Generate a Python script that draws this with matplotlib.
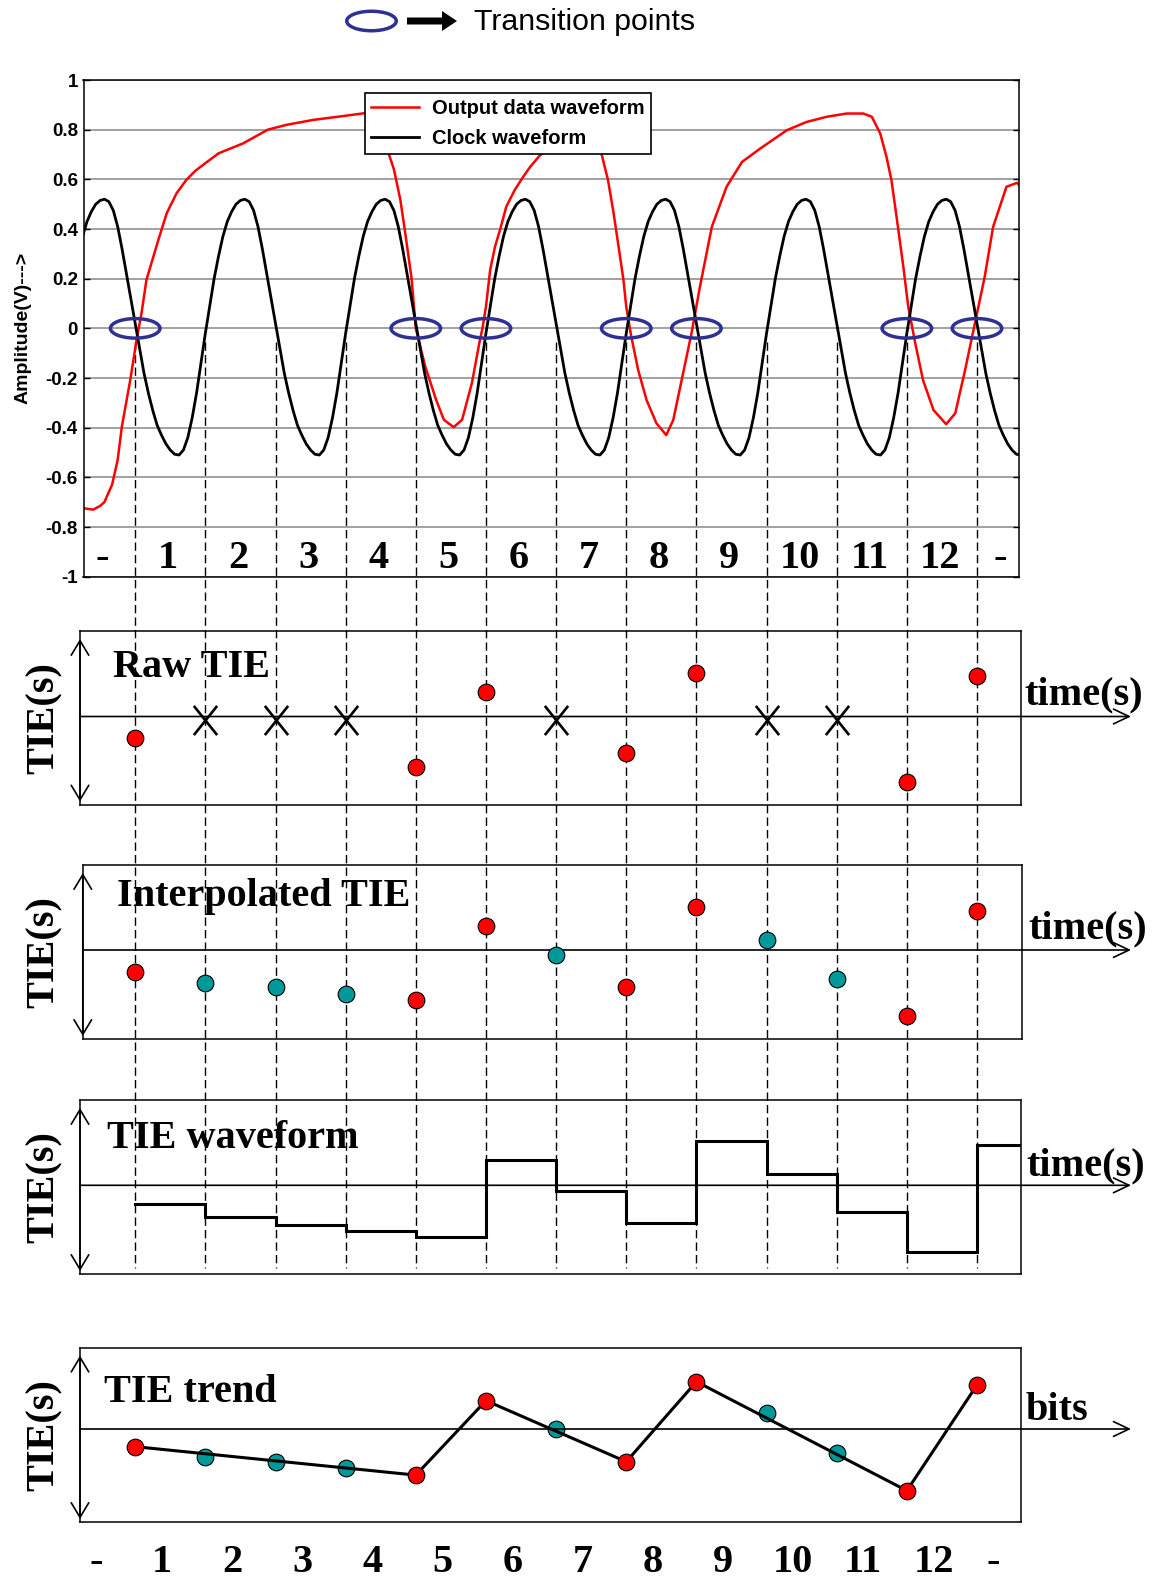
import numpy as np
import matplotlib as mpl
import matplotlib.pyplot as plt
from matplotlib import transforms
from matplotlib.patches import Ellipse, FancyArrow
from matplotlib.path import Path

mpl.rcParams['font.family'] = ['Liberation Sans', 'DejaVu Sans']

# time axis is in bit intervals, t = 0 is the first clock crossing
clock_t = np.arange(-0.75, 12.626, 0.0625)
clock_v = [0.37, 0.43, 0.47, 0.5, 0.515, 0.52, 0.51, 0.475, 0.41, 0.32, 0.22, 0.12,
	0.02, -0.08, -0.18, -0.26, -0.33, -0.39, -0.43, -0.465, -0.49, -0.507, -0.51, -0.49, -0.44, -0.36, -0.26, -0.14,
	-0.02, 0.09, 0.2, 0.29, 0.37, 0.43, 0.47, 0.5, 0.515, 0.52, 0.51, 0.475, 0.41, 0.32, 0.22, 0.12,
	0.02, -0.08, -0.18, -0.26, -0.33, -0.39, -0.43, -0.465, -0.49, -0.507, -0.51, -0.49, -0.44, -0.36, -0.26, -0.14,
	-0.02, 0.09, 0.2, 0.29, 0.37, 0.43, 0.47, 0.5, 0.515, 0.52, 0.51, 0.475, 0.41, 0.32, 0.22, 0.12,
	0.02, -0.08, -0.18, -0.26, -0.33, -0.39, -0.43, -0.465, -0.49, -0.507, -0.51, -0.49, -0.44, -0.36, -0.26, -0.14,
	-0.02, 0.09, 0.2, 0.29, 0.37, 0.43, 0.47, 0.5, 0.515, 0.52, 0.51, 0.475, 0.41, 0.32, 0.22, 0.12,
	0.02, -0.08, -0.18, -0.26, -0.33, -0.39, -0.43, -0.465, -0.49, -0.507, -0.51, -0.49, -0.44, -0.36, -0.26, -0.14,
	-0.02, 0.09, 0.2, 0.29, 0.37, 0.43, 0.47, 0.5, 0.515, 0.52, 0.51, 0.475, 0.41, 0.32, 0.22, 0.12,
	0.02, -0.08, -0.18, -0.26, -0.33, -0.39, -0.43, -0.465, -0.49, -0.507, -0.51, -0.49, -0.44, -0.36, -0.26, -0.14,
	-0.02, 0.09, 0.2, 0.29, 0.37, 0.43, 0.47, 0.5, 0.515, 0.52, 0.51, 0.475, 0.41, 0.32, 0.22, 0.12,
	0.02, -0.08, -0.18, -0.26, -0.33, -0.39, -0.43, -0.465, -0.49, -0.507, -0.51, -0.49, -0.44, -0.36, -0.26, -0.14,
	-0.02, 0.09, 0.2, 0.29, 0.37, 0.43, 0.47, 0.5, 0.515, 0.52, 0.51, 0.475, 0.41, 0.32, 0.22, 0.12,
	0.02, -0.08, -0.18, -0.26, -0.33, -0.39, -0.43, -0.465, -0.49, -0.507, -0.51]

data_t = [-0.74, -0.6, -0.5, -0.44, -0.33, -0.25, -0.19, -0.07, 0.02, 0.09, 0.16, 0.33, 0.45, 0.59, 0.73, 0.86,
	1.0, 1.19, 1.54, 1.89, 2.15, 2.53, 2.97, 3.26, 3.4, 3.5, 3.57, 3.62, 3.69, 3.78, 3.85, 3.94, 4.0,
	4.135, 4.29, 4.4, 4.54, 4.66, 4.8, 4.905, 4.95, 5.0, 5.06, 5.13, 5.2, 5.29, 5.41, 5.53, 5.63, 5.77,
	6.0, 6.25, 6.45, 6.55, 6.65, 6.74, 6.82, 6.89, 6.96, 7.0, 7.07, 7.17, 7.29, 7.43, 7.57, 7.67, 7.79,
	7.93, 8.05, 8.22, 8.43, 8.65, 8.91, 9.29, 9.57, 9.86, 10.14, 10.38, 10.5, 10.62, 10.71, 10.78, 10.86,
	10.95, 11.02, 11.12, 11.23, 11.38, 11.56, 11.69, 11.83, 11.97, 12.11, 12.23, 12.42, 12.57, 12.61]
data_v = [-0.724, -0.73, -0.715, -0.70, -0.63, -0.53, -0.395, -0.207, -0.046, 0.061, 0.195, 0.356, 0.464, 0.544, 0.598, 0.635,
	0.665, 0.705, 0.745, 0.80, 0.819, 0.839, 0.855, 0.866, 0.87, 0.85, 0.78, 0.698, 0.638, 0.517, 0.383, 0.2, 0.0,
	-0.154, -0.288, -0.368, -0.398, -0.368, -0.22, -0.06, 0.0, 0.087, 0.235, 0.33, 0.396, 0.49, 0.557, 0.61, 0.65, 0.697,
	0.74, 0.77, 0.78, 0.76, 0.70, 0.597, 0.463, 0.33, 0.195, 0.087, -0.03, -0.168, -0.289, -0.382, -0.43, -0.369, -0.208,
	-0.02, 0.167, 0.409, 0.57, 0.67, 0.724, 0.798, 0.831, 0.852, 0.865, 0.865, 0.852, 0.785, 0.69, 0.597, 0.436,
	0.248, 0.087, -0.06, -0.208, -0.329, -0.386, -0.342, -0.168, 0.02, 0.208, 0.409, 0.57, 0.586, 0.573]

transitions = [0, 4, 5, 7, 8, 11, 12]
no_transition = [1, 2, 3, 6, 9, 10]
bit_labels = ['-', '1', '2', '3', '4', '5', '6', '7', '8', '9', '10', '11', '12', '-']
yticks = [-1, -0.8, -0.6, -0.4, -0.2, 0, 0.2, 0.4, 0.6, 0.8, 1]
ytick_labels = ['-1', '-0.8', '-0.6', '-0.4', '-0.2', '0', '0.2', '0.4', '0.6', '0.8', '1']

raw_tie = [-0.245, -0.58, 0.278, -0.42, 0.50, -0.755, 0.464]
interp_meas = [-0.25, -0.58, 0.276, -0.42, 0.50, -0.76, 0.45]
interp_fill = [-0.376, -0.43, -0.51, -0.06, 0.115, -0.33]
wave_levels = [-0.217, -0.36, -0.456, -0.524, -0.59, 0.29, -0.066, -0.437, 0.513, 0.134, -0.31, -0.77, 0.46]
trend_meas = [-0.203, -0.53, 0.326, -0.376, 0.544, -0.709, 0.506]
trend_fill = [-0.326, -0.376, -0.452, 0.0, 0.18, -0.272]

RED = '#ff0000'
TEAL = '#009999'
BLUE = '#2e3192'
W, H = 1160, 1585
T0, DU, PU = 135.2, 70.15, 87.0
SERIF = 'Liberation Serif'

def t_of(px):
	return (px - T0) / DU

fig = plt.figure(figsize=(W/100, H/100), dpi=100)

def px_axes(left, right, top, bottom):
	return fig.add_axes([left/W, 1 - bottom/H, (right-left)/W, (bottom-top)/H])

# overlay in pixel units, drawn first (dashed guides + header key)
ov = fig.add_axes([0, 0, 1, 1])
ov.set_xlim(0, W)
ov.set_ylim(H, 0)
ov.axis('off')

ov.add_patch(Ellipse((371.5, 21), 49.5, 19.5, fill=False, ec=BLUE, lw=2.5))
ov.add_patch(FancyArrow(407, 21, 50, 0, width=7, head_width=20, head_length=15,
	length_includes_head=True, color='black', lw=0))
ov.text(474, 29.5, 'Transition points', fontsize=21.8, va='baseline', ha='left')

# ---- top waveform plot ----
L, R = 83.5, 1019
ax = px_axes(L, R, 80, 576.7)
ax.set_facecolor('none')
ax.set_xlim(t_of(L), t_of(R))
ax.set_ylim(-1, 1)
ax.set_yticks(yticks, labels=ytick_labels, fontsize=13.5, fontweight='bold')
ax.tick_params(axis='y', direction='in', length=4, width=1, right=True, pad=4)
ax.tick_params(axis='x', bottom=False, labelbottom=False)
ax.grid(axis='y', color='#9a9a9a', lw=1.3)
for s in ax.spines.values():
	s.set_linewidth(1.1)

ax.plot(data_t, data_v, color=RED, lw=1.8, label='Output data waveform')
ax.plot(clock_t, clock_v, color='black', lw=2.0, label='Clock waveform')
for t in transitions:
	ax.add_patch(Ellipse((t, 0), 0.706, 0.0785, fill=False, ec=BLUE, lw=2.5, zorder=5))

top_x = np.r_[-0.47, np.arange(1, 13) - 0.53, 12.33]
for x, lab in zip(top_x, bit_labels):
	ax.text(x, -0.965, lab, ha='center', va='baseline', fontsize=29, family=SERIF, fontweight='bold')

ax.set_ylabel('Amplitude(V)--->', fontsize=14, fontweight='bold', va='center')
ax.yaxis.set_label_coords((23.5 - L)/(R - L), 0.5)

leg = ax.legend(loc='upper left', bbox_to_anchor=((365 - L)/(R - L), 1 - 13/496.7),
	prop=dict(weight='bold', size=14.5), fancybox=False, edgecolor='black', framealpha=1,
	borderpad=0.3, labelspacing=0.55, handlelength=2.4, handletextpad=0.65, borderaxespad=0)
leg.get_frame().set_linewidth(1.2)

# dashed guide lines through all panels
guide = transforms.blended_transform_factory(ax.transData, ov.transData)
ov.vlines(np.arange(13), 342, 1268, transform=guide, colors='black', lw=1.0, linestyles=(0, (6, 3)))

# ---- lower panels ----
def panel(left, right, top, bottom, axis_px, title, title_xy, xname, xname_xy):
	a = px_axes(left, right, top, bottom)
	a.set_facecolor('none')
	a.set_xlim(t_of(left), t_of(right))
	a.set_ylim((axis_px - bottom)/PU, (axis_px - top)/PU)
	a.set_xticks([])
	a.set_yticks([])
	for s in a.spines.values():
		s.set_linewidth(1.1)
	a.annotate('', xy=(1131/W, 0), xycoords=('figure fraction', 'data'),
		xytext=(0, 0), textcoords=('axes fraction', 'data'), annotation_clip=False,
		arrowprops=dict(arrowstyle='->,head_length=0.8,head_width=0.38', mutation_scale=14,
			lw=1.2, color='black', shrinkA=0, shrinkB=0))
	h = bottom - top
	a.annotate('', xy=(0, 1 - 8/h), xycoords='axes fraction', xytext=(0, 3/h),
		textcoords='axes fraction', annotation_clip=False,
		arrowprops=dict(arrowstyle='<->,head_length=0.75,head_width=0.45', mutation_scale=14,
			lw=1.2, color='black', shrinkA=0, shrinkB=0))
	a.set_ylabel('TIE(s)', family=SERIF, fontweight='bold', fontsize=29, va='center')
	a.yaxis.set_label_coords((44.5 - left)/(right - left), 0.5)
	a.text((title_xy[0] - left)/(right - left), (bottom - title_xy[1])/h, title,
		transform=a.transAxes, family=SERIF, fontweight='bold', fontsize=29, va='baseline')
	a.text((xname_xy[0] - left)/(right - left), (bottom - xname_xy[1])/h, xname,
		transform=a.transAxes, family=SERIF, fontweight='bold', fontsize=29, va='baseline',
		clip_on=False)
	return a

mk = dict(ls='none', marker='o', ms=12, mec='black', mew=0.8)
xmark = Path([(-0.4, -0.5), (0.4, 0.5), (-0.4, 0.5), (0.4, -0.5)],
	[Path.MOVETO, Path.LINETO, Path.MOVETO, Path.LINETO])

a1 = panel(80, 1020.7, 631, 804.5, 716.5, 'Raw TIE', (113, 677.3), 'time(s)', (1024.4, 704))
a1.plot(no_transition, [-0.04]*len(no_transition), ls='none', marker=xmark, ms=21, mew=1.9,
	color='black', mfc='none')
a1.plot(transitions, raw_tie, mfc=RED, zorder=4, **mk)

a2 = panel(82.8, 1022, 865, 1039, 950, 'Interpolated TIE', (116.9, 906), 'time(s)', (1028, 938.3))
a2.plot(no_transition, interp_fill, mfc=TEAL, zorder=3, **mk)
a2.plot(transitions, interp_meas, mfc=RED, zorder=4, **mk)

a3 = panel(80, 1020.7, 1100, 1274, 1185.3, 'TIE waveform', (107, 1148.3), 'time(s)', (1026, 1175.7))
bits = np.arange(13)
a3.step(np.append(bits, a3.get_xlim()[1]), np.append(wave_levels, wave_levels[-1]), where='post',
	color='black', lw=2.2, solid_joinstyle='miter')

a4 = panel(80, 1020.7, 1347.7, 1522, 1429, 'TIE trend', (103.5, 1401.7), 'bits', (1026, 1420))
a4.plot(no_transition, trend_fill, mfc=TEAL, zorder=2, **mk)
a4.plot(transitions, trend_meas, color='black', lw=2.2, zorder=3)
a4.plot(transitions, trend_meas, mfc=RED, zorder=4, **mk)

bottom_x = np.r_[-0.556, np.arange(1, 13) - 0.62, 12.23]
btrans = transforms.blended_transform_factory(a4.transData, fig.transFigure)
for x, lab in zip(bottom_x, bit_labels):
	a4.text(x, 1 - 1571.7/H, lab, transform=btrans, ha='center', va='baseline', fontsize=29,
		family=SERIF, fontweight='bold', clip_on=False)

fig.savefig('out.png', dpi=100)
